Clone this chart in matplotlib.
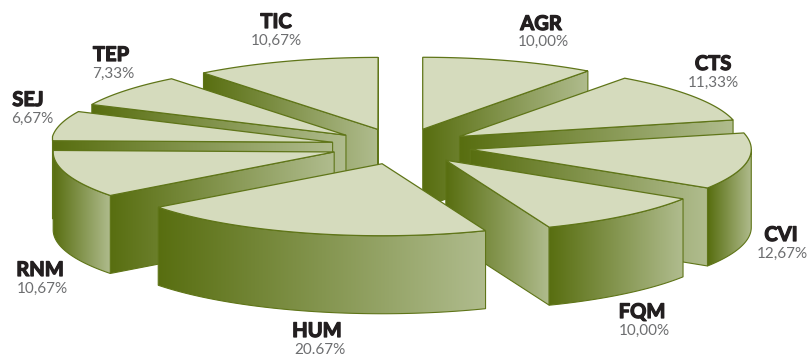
import numpy as np
import matplotlib
matplotlib.use("Agg")
import matplotlib.pyplot as plt
import matplotlib.patheffects as pe
from matplotlib.colors import LinearSegmentedColormap
from matplotlib.patches import Polygon

categories = ["AGR", "CTS", "CVI", "FQM", "HUM", "RNM", "SEJ", "TEP", "TIC"]
values = [10.00, 11.33, 12.67, 10.00, 20.67, 10.67, 6.67, 7.33, 10.67]
pct_labels = ["10,00%", "11,33%", "12,67%", "10,00%", "20.67%", "10,67%", "6,67%", "7,33%", "10,67%"]

# layout (pixels)
name_pos = [(541, 24), (713, 64), (781, 235), (642, 312), (317, 331), (40, 270), (28, 100), (111, 55), (276, 22)]
pct_pos = [(543, 42), (713, 83), (782, 254), (644, 331), (320, 350), (42, 289), (32, 119), (113, 74), (276, 41)]
CX, CY, RA, RB, H, EXPLODE = 401.0, 146.4, 281.0, 72.0, 78.0, 0.25
XMIN, XMAX = 52.5, 751.5

TOP = "#d5dbbd"
EDGE = "#5f7518"
cmap = LinearSegmentedColormap.from_list("wall", ["#586e10", "#b0bc8e"])

fig = plt.figure(figsize=(8.07, 3.56), dpi=100)
ax = fig.add_axes([0, 0, 1, 1])
ax.set_autoscale_on(False)
ax.set_xlim(0, 807)
ax.set_ylim(356, 0)
ax.axis("off")

z = [1]


def pt(ox, oy, deg):
    t = np.radians(deg)
    return np.clip(ox + RA * np.sin(t), XMIN, XMAX), oy - RB * np.cos(t)


def wall(xy):
    xy = np.asarray(xy)
    poly = Polygon(xy, closed=True, facecolor="none", edgecolor="none", transform=ax.transData)
    ax.add_patch(poly)
    im = ax.imshow(np.linspace(0, 1, 256).reshape(1, -1), cmap=cmap, aspect="auto",
                   extent=(xy[:, 0].min(), xy[:, 0].max(), xy[:, 1].max(), xy[:, 1].min()),
                   interpolation="bilinear", zorder=z[0])
    im.set_clip_path(poly)
    ax.add_patch(Polygon(xy, closed=True, facecolor="none", edgecolor=EDGE, lw=0.8, zorder=z[0] + 0.1))
    z[0] += 1


edges = np.concatenate([[0], np.cumsum(values)]) * 3.6
slices = []
for i in range(len(values)):
    a0, a1 = edges[i], edges[i + 1]
    mid = np.radians((a0 + a1) / 2)
    ox = CX + EXPLODE * RA * np.sin(mid)
    oy = CY - EXPLODE * RB * np.cos(mid)
    slices.append((oy, ox, a0, a1))

for oy, ox, a0, a1 in sorted(slices, key=lambda s: s[0]):
    # radial walls facing the viewer
    for ang, sign in ((a0, -1), (a1, 1)):
        if np.cos(np.radians(ang + sign * 90)) < 0:
            px, py = pt(ox, oy, ang)
            wall([(ox, oy), (px, py), (px, py + H), (ox, oy + H)])
    # outer wall
    lo, hi = max(a0, 90), min(a1, 270)
    if hi > lo:
        ts = np.linspace(lo, hi, 80)
        x, y = pt(ox, oy, ts)
        top = np.column_stack([x, y])
        bot = np.column_stack([x, y + H])[::-1]
        wall(np.vstack([top, bot]))
    # top face
    ts = np.linspace(a0, a1, 100)
    x, y = pt(ox, oy, ts)
    face = np.vstack([[ox, oy], np.column_stack([x, y])])
    ax.add_patch(Polygon(face, closed=True, facecolor=TOP, edgecolor=EDGE, lw=0.9, zorder=z[0]))
    z[0] += 1

for name, pct, np_, pp in zip(categories, pct_labels, name_pos, pct_pos):
    ax.text(np_[0], np_[1], name, ha="center", va="center", fontsize=14.5, fontweight="bold",
            family="Lato", color="#231f20", zorder=z[0] + 1,
            path_effects=[pe.withStroke(linewidth=0.9, foreground="#231f20")])
    ax.text(pp[0], pp[1], pct, ha="center", va="center", fontsize=11, fontweight="normal",
            family="Lato", color="#6d6e70", zorder=z[0] + 1)

ax.set_xlim(0, 807)
ax.set_ylim(356, 0)
fig.savefig("out.png", dpi=100)
